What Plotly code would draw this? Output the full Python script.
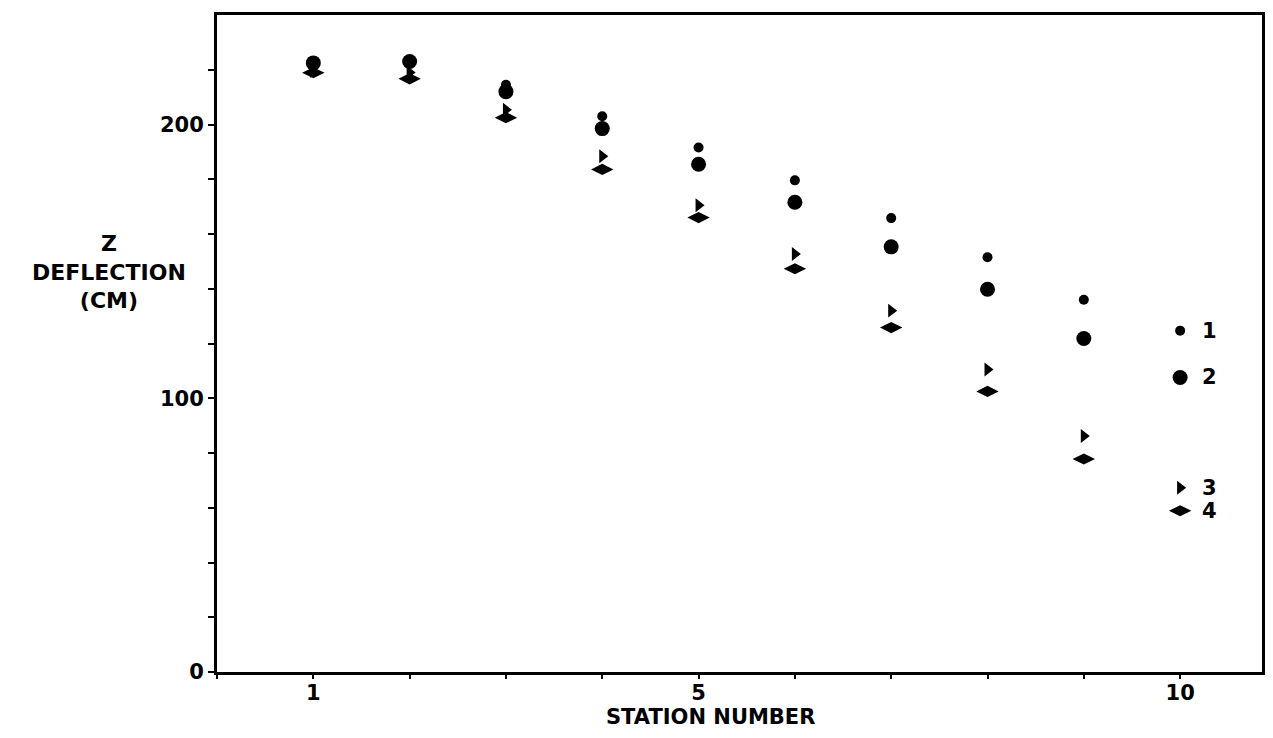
import plotly.graph_objects as go

stations = [1, 2, 3, 4, 5, 6, 7, 8, 9, 10]
series1 = [222.7, 223.5, 214.5, 203.0, 191.6, 179.6, 165.8, 151.5, 136.0, 124.7]
series2 = [222.5, 223.0, 212.0, 198.5, 185.5, 171.6, 155.3, 139.8, 121.8, 107.6]
series3 = [219.5, 219.0, 205.4, 188.4, 170.5, 152.7, 132.0, 110.5, 86.2, 67.3]
series4 = [218.9, 216.7, 202.5, 183.6, 166.0, 147.3, 125.8, 102.5, 77.8, 58.9]
series_names = ["1", "2", "3", "4"]

x_tickvals = [0, 1, 2, 3, 4, 5, 6, 7, 8, 9, 10]
x_ticktext = ["", "1", "", "", "", "5", "", "", "", "", "10"]
y_tickvals = [0, 20, 40, 60, 80, 100, 120, 140, 160, 180, 200, 220]
y_ticktext = ["0", "", "", "", "", "100", "", "", "", "", "200", ""]

FONT = "DejaVu Sans"
styles = [
    dict(symbol="circle", size=10),
    dict(symbol="circle", size=15),
    dict(symbol="triangle-right", size=12),
    dict(symbol="diamond-wide", size=16),
]

ML, MR, MT, MB = 209, 19, 4, 74
PW = 1273 - ML - MR
PH = 738 - MT - MB

fig = go.Figure()
all_series = [series1, series2, series3, series4]
for name, ys, st in zip(series_names, all_series, styles):
    fig.add_trace(go.Scatter(
        x=stations, y=ys, mode="markers", name=name,
        marker=dict(symbol=st["symbol"], size=st["size"], color="black",
                    line=dict(width=0)),
        showlegend=False,
    ))
    fig.add_annotation(
        x=stations[-1], y=ys[-1], text=name, showarrow=False,
        xshift=29, xanchor="center", yanchor="middle",
        font=dict(family=FONT, size=21, color="black", weight="bold"),
    )

fig.add_annotation(
    xref="paper", yref="paper", x=(702 - ML) / PW, y=-(709 - (738 - MB)) / PH,
    text="STATION NUMBER", showarrow=False, xanchor="center", yanchor="middle",
    font=dict(family=FONT, size=21, color="black", weight="bold"),
)
fig.add_annotation(
    xref="paper", yref="paper", x=(101 - ML) / PW, y=((738 - MB) - 262) / PH,
    text="Z<br>DEFLECTION<br>(CM)", showarrow=False, xanchor="center",
    yanchor="middle", align="center",
    font=dict(family=FONT, size=22, color="black", weight="bold"),
)

fig.update_layout(
    width=1273, height=738,
    margin=dict(l=ML, r=MR, t=MT, b=MB),
    paper_bgcolor="white", plot_bgcolor="white",
    font=dict(family=FONT, size=20, color="black", weight="bold"),
    xaxis=dict(
        range=[0, 10.85], tickvals=x_tickvals, ticktext=x_ticktext,
        showgrid=False, zeroline=False, showline=True, mirror=True,
        linecolor="black", linewidth=3, ticks="outside", ticklen=4,
        tickwidth=2, tickcolor="black", ticklabelstandoff=-4,
        tickfont=dict(family=FONT, size=21, color="black", weight="bold"),
    ),
    yaxis=dict(
        range=[0, 240], tickvals=y_tickvals, ticktext=y_ticktext,
        showgrid=False, zeroline=False, showline=True, mirror=True,
        linecolor="black", linewidth=3, ticks="outside", ticklen=6,
        tickwidth=2, tickcolor="black", ticklabelstandoff=0,
        tickfont=dict(family=FONT, size=21, color="black", weight="bold"),
    ),
)

fig.write_html("out.html")
